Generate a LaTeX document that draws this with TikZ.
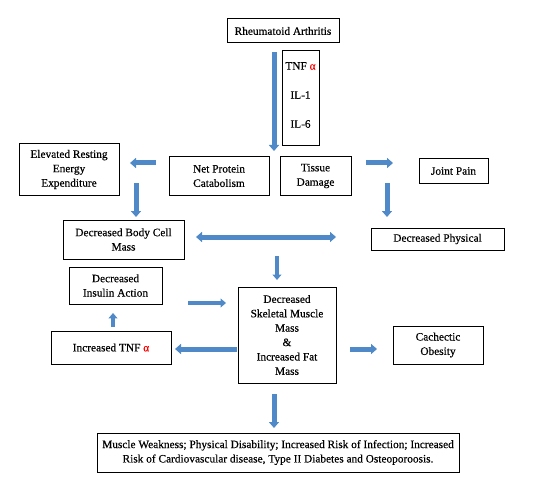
\documentclass[tikz,border=0pt]{standalone}
\usepackage{fontspec}
\setmainfont{Liberation Serif}[FakeBold=0.35]
\usetikzlibrary{arrows.meta}
\definecolor{arrowblue}{HTML}{5089C8}
\definecolor{arrowedge}{HTML}{41719C}
\definecolor{alphared}{HTML}{FF0000}
\newcommand{\redalpha}{\textcolor{alphared}{α}}
\begin{document}
\begin{tikzpicture}[x=0.75pt,y=-0.75pt,
  box/.style={draw=black,line width=0.75pt,inner sep=0pt,align=center,
    font=\fontsize{8.5}{10.8}\selectfont},
  blockarrow/.style={draw=arrowblue,line width=3.75pt,
    -{Triangle[width=7.5pt,length=4.5pt]}},
  thinarrow/.style={draw=arrowblue,line width=3pt,
    -{Triangle[width=6.5pt,length=4pt]}},
  dblarrow/.style={draw=arrowblue,line width=3.75pt,
    {Triangle[width=7.5pt,length=4.5pt]}-{Triangle[width=7.5pt,length=4.5pt]}}]
\useasboundingbox (0,0) rectangle (541,488);
\fill[white] (0,0) rectangle (541,488);

\node[box,minimum width=84pt,minimum height=18pt] (ra) at (283,31) {Rheumatoid Arthritis};
\node[box,minimum width=27.75pt,minimum height=71.25pt] (cyt) at (300.5,98.5) {};
\node[font=\fontsize{8.5}{10.8}\selectfont] (tnf) at (300.5,66) {TNF \redalpha};
\node[font=\fontsize{8.5}{10.8}\selectfont] (il1) at (300.5,95) {IL-1};
\node[font=\fontsize{8.5}{10.8}\selectfont] (il6) at (300.5,124) {IL-6};
\node[box,minimum width=75pt,minimum height=38.25pt] (ere) at (69,169.5) {Elevated Resting\\Energy\\Expenditure};
\node[box,minimum width=75pt,minimum height=28.5pt] (npc) at (219,176) {Net Protein\\Catabolism};
\node[box,minimum width=53.25pt,minimum height=28.5pt] (td) at (315.5,176) {Tissue\\Damage};
\node[box,minimum width=51.75pt,minimum height=18pt] (jp) at (453.5,171) {Joint Pain};
\node[box,minimum width=90.75pt,minimum height=29.25pt] (dbcm) at (123.5,239.5) {Decreased Body Cell\\Mass};
\node[box,minimum width=99.75pt,minimum height=16.5pt] (dp) at (437.5,239) {Decreased Physical};
\node[box,minimum width=69.75pt,minimum height=27.75pt] (dia) at (115.5,285.5) {Decreased\\Insulin Action};
\node[box,minimum width=73.5pt,minimum height=72pt] (cent) at (287,335) {Decreased\\Skeletal Muscle\\Mass\\\&\\Increased Fat\\Mass};
\node[box,minimum width=90pt,minimum height=24.75pt] (itnf) at (111,347.5) {Increased TNF \redalpha};
\node[box,minimum width=67.5pt,minimum height=28.5pt] (co) at (438,345) {Cachectic\\Obesity};
\node[box,minimum width=271.5pt,minimum height=29.25pt] (bot) at (278,452.5) {Muscle Weakness; Physical Disability; Increased Risk of Infection; Increased\\Risk of Cardiovascular disease, Type II Diabetes and Osteoporoosis.};

\coordinate (a1s) at (274,52);  \coordinate (a1e) at (274,151);
\coordinate (a2s) at (156,163); \coordinate (a2e) at (130,163);
\coordinate (a3s) at (366,163); \coordinate (a3e) at (393,163);
\coordinate (a4s) at (136,183); \coordinate (a4e) at (136,217);
\coordinate (a5s) at (387,183); \coordinate (a5e) at (387,217);
\coordinate (a6s) at (196,237); \coordinate (a6e) at (336,237);
\coordinate (a7s) at (277,256); \coordinate (a7e) at (277,280);
\coordinate (a8s) at (188,303); \coordinate (a8e) at (226,303);
\coordinate (a9s) at (113,327); \coordinate (a9e) at (113,313);
\coordinate (a10s) at (237,349); \coordinate (a10e) at (175,349);
\coordinate (a11s) at (350,349); \coordinate (a11e) at (377,349);
\coordinate (a12s) at (274,394); \coordinate (a12e) at (274,428);

\draw[blockarrow] (a1s) -- (a1e);
\draw[blockarrow] (a2s) -- (a2e);
\draw[blockarrow] (a3s) -- (a3e);
\draw[blockarrow] (a4s) -- (a4e);
\draw[blockarrow] (a5s) -- (a5e);
\draw[dblarrow] (a6s) -- (a6e);
\draw[thinarrow] (a7s) -- (a7e);
\draw[thinarrow] (a8s) -- (a8e);
\draw[thinarrow] (a9s) -- (a9e);
\draw[blockarrow] (a10s) -- (a10e);
\draw[blockarrow] (a11s) -- (a11e);
\draw[blockarrow] (a12s) -- (a12e);
\end{tikzpicture}
\end{document}
